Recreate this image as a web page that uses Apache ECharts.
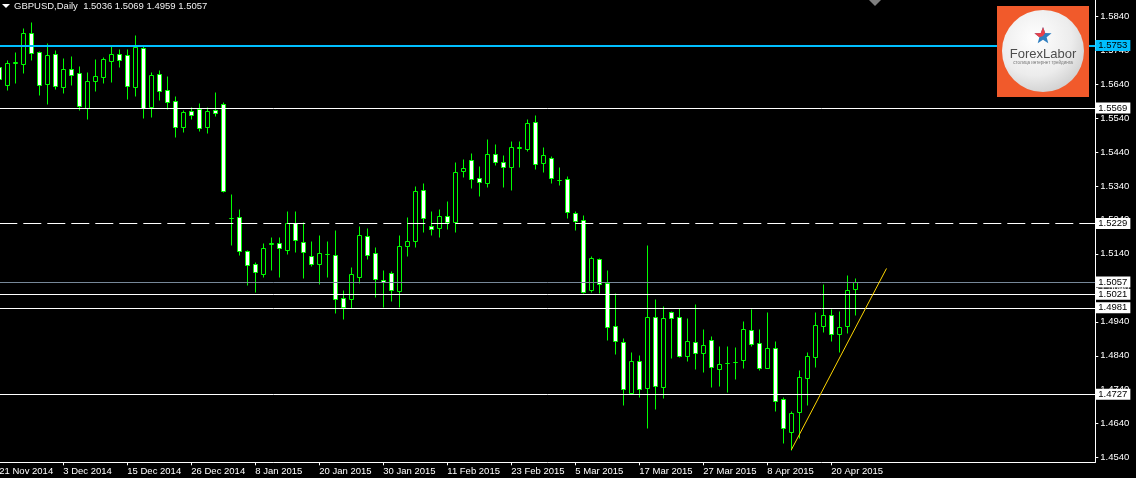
<!DOCTYPE html>
<html><head><meta charset="utf-8">
<script src="https://cdn.jsdelivr.net/npm/echarts@6/dist/echarts.min.js"></script>
<style>html,body{margin:0;padding:0;background:#000}#c{width:1136px;height:478px}</style>
</head><body><div id="c"></div>
<script>
// ---- data (bar index 0 = 21 Nov 2014, daily GBPUSD) ----
const tickIndex = [0,8,16,24,32,40,48,56,64,72,80,88,96,104];
const tickLabels = ["21 Nov 2014","3 Dec 2014","15 Dec 2014","26 Dec 2014","8 Jan 2015","20 Jan 2015","30 Jan 2015","11 Feb 2015","23 Feb 2015","5 Mar 2015","17 Mar 2015","27 Mar 2015","8 Apr 2015","20 Apr 2015"];
const yTicks = [1.4540,1.4640,1.4740,1.4840,1.4940,1.5040,1.5140,1.5240,1.5340,1.5440,1.5540,1.5640,1.5740,1.5840];

const opens = [1.5690,1.5636,1.5703,1.5700,1.5790,1.5734,1.5641,1.5728,1.5632,1.5684,
1.5671,1.5569,1.5650,1.5661,1.5708,1.5728,1.5725,1.5632,1.5746,1.5573,
1.5669,1.5622,1.5590,1.5514,1.5560,1.5567,1.5514,1.5563,1.5581,1.5246,
1.5248,1.5148,1.5109,1.5080,1.5169,1.5171,1.5152,1.5230,1.5174,1.5133,
1.5109,1.5139,1.5136,1.5009,1.5006,1.5073,1.5192,1.5142,1.5062,1.5083,
1.5032,1.5162,1.5179,1.5327,1.5221,1.5215,1.5251,1.5235,1.5383,1.5415,
1.5362,1.5348,1.5433,1.5409,1.5395,1.5452,1.5449,1.5527,1.5406,1.5421,
1.5357,1.5359,1.5259,1.5239,1.5035,1.5124,1.5055,1.4927,1.4881,1.4731,
1.4825,1.4744,1.4953,1.4749,1.4968,1.4953,1.4840,1.4880,1.4849,1.4886,
1.4800,1.4819,1.4821,1.4827,1.4915,1.4877,1.4805,1.4862,1.4712,1.4617,
1.4674,1.4776,1.4837,1.4929,1.4959,1.4905,1.4927,1.5036];
const closes = [1.5654,1.5701,1.5705,1.5790,1.5732,1.5638,1.5725,1.5635,1.5684,1.5667,
1.5576,1.5649,1.5663,1.5713,1.5728,1.5711,1.5635,1.5749,1.5569,1.5665,
1.5620,1.5586,1.5514,1.5558,1.5549,1.5511,1.5561,1.5556,1.5326,1.5245,
1.5148,1.5106,1.5086,1.5156,1.5171,1.5156,1.5230,1.5180,1.5145,1.5109,
1.5142,1.5140,1.5006,1.4983,1.5080,1.5195,1.5136,1.5065,1.5056,1.5034,
1.5162,1.5177,1.5324,1.5245,1.5213,1.5251,1.5235,1.5380,1.5392,1.5359,
1.5351,1.5433,1.5409,1.5395,1.5454,1.5453,1.5524,1.5404,1.5430,1.5362,
1.5358,1.5262,1.5236,1.5029,1.5127,1.5050,1.4926,1.4883,1.4741,1.4825,
1.4741,1.4953,1.4752,1.4950,1.4950,1.4840,1.4883,1.4847,1.4871,1.4808,
1.4815,1.4820,1.4822,1.4918,1.4876,1.4805,1.4862,1.4708,1.4627,1.4671,
1.4777,1.4838,1.4930,1.4959,1.4903,1.4924,1.5033,1.5057];
const lows = [1.5643,1.5622,1.5643,1.5673,1.5711,1.5608,1.5582,1.5625,1.5614,1.5638,
1.5563,1.5537,1.5620,1.5644,1.5646,1.5691,1.5596,1.5605,1.5539,1.5544,
1.5593,1.5567,1.5483,1.5500,1.5536,1.5502,1.5497,1.5547,1.5322,1.5167,
1.5138,1.5049,1.5029,1.5073,1.5093,1.5073,1.5140,1.5146,1.5070,1.5105,
1.5052,1.5072,1.4967,1.4948,1.4980,1.5055,1.5125,1.5014,1.4984,1.5002,
1.4984,1.5135,1.5161,1.5205,1.5196,1.5190,1.5213,1.5205,1.5367,1.5334,
1.5311,1.5338,1.5401,1.5338,1.5329,1.5397,1.5444,1.5391,1.5380,1.5348,
1.5342,1.5246,1.5211,1.5026,1.5029,1.5026,1.4887,1.4846,1.4696,1.4729,
1.4720,1.4628,1.4684,1.4717,1.4834,1.4837,1.4826,1.4801,1.4793,1.4749,
1.4752,1.4734,1.4772,1.4805,1.4868,1.4799,1.4804,1.4678,1.4584,1.4563,
1.4599,1.4696,1.4808,1.4911,1.4884,1.4852,1.4908,1.4959];
const highs = [1.5705,1.5710,1.5734,1.5805,1.5822,1.5737,1.5761,1.5740,1.5716,1.5722,
1.5694,1.5675,1.5713,1.5719,1.5754,1.5742,1.5743,1.5784,1.5752,1.5675,
1.5681,1.5663,1.5604,1.5563,1.5571,1.5585,1.5571,1.5616,1.5587,1.5316,
1.5272,1.5151,1.5116,1.5172,1.5190,1.5190,1.5266,1.5266,1.5235,1.5178,
1.5195,1.5178,1.5210,1.5034,1.5101,1.5222,1.5216,1.5160,1.5092,1.5090,
1.5195,1.5248,1.5340,1.5349,1.5267,1.5272,1.5296,1.5410,1.5418,1.5437,
1.5398,1.5478,1.5463,1.5430,1.5471,1.5471,1.5537,1.5549,1.5454,1.5428,
1.5396,1.5369,1.5266,1.5254,1.5135,1.5128,1.5092,1.5025,1.4892,1.4851,
1.4842,1.5166,1.5007,1.4986,1.4971,1.4980,1.4950,1.4992,1.4919,1.4897,
1.4868,1.4868,1.4865,1.4942,1.4978,1.4919,1.4969,1.4884,1.4720,1.4677,
1.4798,1.4850,1.4969,1.5051,1.4978,1.4972,1.5078,1.5069];

const levelValues = [1.5753, 1.5569, 1.5229, 1.5057, 1.5021, 1.4981, 1.4727];
const trendLine = [[99.0, 1.4563], [110.9, 1.5097]];

// ---- styles ----
const levelColors = ['#00BFFF', '#ffffff', '#ffffff', '#778899', '#ffffff', '#ffffff', '#ffffff'];
const levelWidths = [2, 1, 1, 1, 1, 1, 1];
const levelTypes = ['solid', 'solid', [18, 6], 'solid', 'solid', 'solid', 'solid'];
const levelBoxColors = ['#00BFFF', '#ffffff', '#ffffff', '#ffffff', '#ffffff', '#ffffff', '#ffffff'];
const FONT = '"Liberation Sans", Arial, sans-serif';

const candleData = opens.map((o, i) => [i, o, closes[i], lows[i], highs[i]]);

function renderCandle(params, api) {
  const i = api.value(0), o = api.value(1), c = api.value(2), l = api.value(3), h = api.value(4);
  const pO = api.coord([i, o]), pC = api.coord([i, c]), pL = api.coord([i, l]), pH = api.coord([i, h]);
  const cx = Math.floor(pO[0]) + 0.5;
  const yT = Math.round(Math.min(pO[1], pC[1])) + 0.5;
  const yB = Math.round(Math.max(pO[1], pC[1])) + 0.5;
  const bull = c > o;
  return {
    type: 'group',
    children: [
      { type: 'line', shape: { x1: cx, y1: Math.round(pH[1]) + 0.5, x2: cx, y2: Math.round(pL[1]) + 0.5 },
        style: { stroke: '#00ff00', lineWidth: 1 } },
      { type: 'rect', shape: { x: cx - 2, y: yT, width: 4, height: yB - yT },
        style: { fill: bull ? '#000000' : '#ffffff', stroke: '#00ff00', lineWidth: 1 } }
    ]
  };
}

// star polygon for the logo
function starPts(cx, cy, R, r) {
  const pts = [];
  for (let k = 0; k < 10; k++) {
    const a = -Math.PI / 2 + k * Math.PI / 5;
    const rad = k % 2 === 0 ? R : r;
    pts.push([cx + rad * Math.cos(a), cy + rad * Math.sin(a)]);
  }
  return pts;
}
const sp = starPts(1043, 36, 9, 3.8);
const redPart = [sp[0], sp[1], [1043, 36], sp[7], sp[8], sp[9]];

const last = opens.length - 1;
const titleText = 'GBPUSD,Daily  ' + opens[last].toFixed(4) + ' ' + highs[last].toFixed(4) + ' ' + lows[last].toFixed(4) + ' ' + closes[last].toFixed(4);

const chart = echarts.init(document.getElementById('c'), null, { renderer: 'canvas' });
chart.setOption({
  backgroundColor: '#000000',
  animation: false,
  grid: { left: -0.7, right: 40.7, top: 0, bottom: 15.7, containLabel: false, outerBoundsMode: 'none' },
  xAxis: {
    type: 'value', min: 0, max: 137, position: 'bottom',
    splitLine: { show: false },
    axisLine: { show: true, onZero: false, lineStyle: { color: '#ffffff', width: 1 } },
    axisTick: { show: true, customValues: tickIndex, length: 3, inside: false, lineStyle: { color: '#ffffff' } },
    axisLabel: {
      customValues: tickIndex, color: '#ffffff', fontSize: 9.5, fontFamily: FONT, margin: 4, align: 'left',
      formatter: v => tickLabels[tickIndex.indexOf(v)] || ''
    }
  },
  yAxis: {
    type: 'value', position: 'right', min: 1.45265, max: 1.58871, scale: true,
    splitLine: { show: false },
    axisLine: { show: true, onZero: false, lineStyle: { color: '#ffffff', width: 1 } },
    axisTick: { show: true, customValues: yTicks, length: 3, inside: false, lineStyle: { color: '#ffffff' } },
    axisLabel: { customValues: yTicks, color: '#ffffff', fontSize: 9.5, fontFamily: FONT, margin: 5,
      formatter: v => v.toFixed(4) }
  },
  series: [
    {
      type: 'custom', name: 'GBPUSD', renderItem: renderCandle, data: candleData,
      encode: { x: 0, y: [1, 2, 3, 4] }, clip: true, silent: true, z: 2
    },
    {
      type: 'line', name: 'trend', data: trendLine, symbol: 'none', silent: true, z: 5,
      lineStyle: { color: '#FFD700', width: 1 },
      markLine: {
        symbol: ['none', 'none'], silent: true, animation: false, precision: 4,
        data: levelValues.map((v, k) => ({
          yAxis: v,
          lineStyle: { color: levelColors[k], width: levelWidths[k], type: levelTypes[k] },
          label: {
            show: true, position: 'end', distance: 0,
            formatter: () => v.toFixed(4),
            color: '#000000', backgroundColor: levelBoxColors[k],
            fontSize: 9.5, fontFamily: FONT, lineHeight: 10, padding: [1, 3, 0, 3]
          }
        }))
      }
    }
  ],
  graphic: [
    { type: 'polygon', shape: { points: [[2, 4], [10, 4], [6, 8]] }, style: { fill: '#ffffff' }, z: 100 },
    { type: 'text', left: 14, top: 1, z: 100,
      style: { text: titleText, fill: '#f0f0f0', font: '9.5px ' + FONT } },
    { type: 'polygon', shape: { points: [[869, 0], [881, 0], [875, 6]] }, style: { fill: '#7f7f7f' }, z: 100 },
    { type: 'rect', shape: { x: 997, y: 6, width: 92, height: 91 }, style: { fill: '#f15a2b' }, z: 100 },
    { type: 'circle', shape: { cx: 1043, cy: 51, r: 41 }, z: 101,
      style: { fill: new echarts.graphic.RadialGradient(0.4, 0.35, 0.75, [
        { offset: 0, color: '#ffffff' }, { offset: 0.6, color: '#ececec' }, { offset: 1, color: '#c9c9c9' }]) } },
    { type: 'polygon', shape: { points: sp }, style: { fill: '#2f7fc1' }, z: 102 },
    { type: 'polygon', shape: { points: redPart }, style: { fill: '#e8414b' }, z: 103 },
    { type: 'text', z: 104, style: { x: 1043, y: 54, text: 'ForexLabor', align: 'center', verticalAlign: 'middle',
      font: '13px ' + FONT, fill: '#4d4d4d' } },
    { type: 'text', z: 104, style: { x: 1043, y: 63, text: 'столица интернет трейдинга', align: 'center', verticalAlign: 'middle',
      font: '4.5px ' + FONT, fill: '#777777' } }
  ]
});
</script>
</body></html>
